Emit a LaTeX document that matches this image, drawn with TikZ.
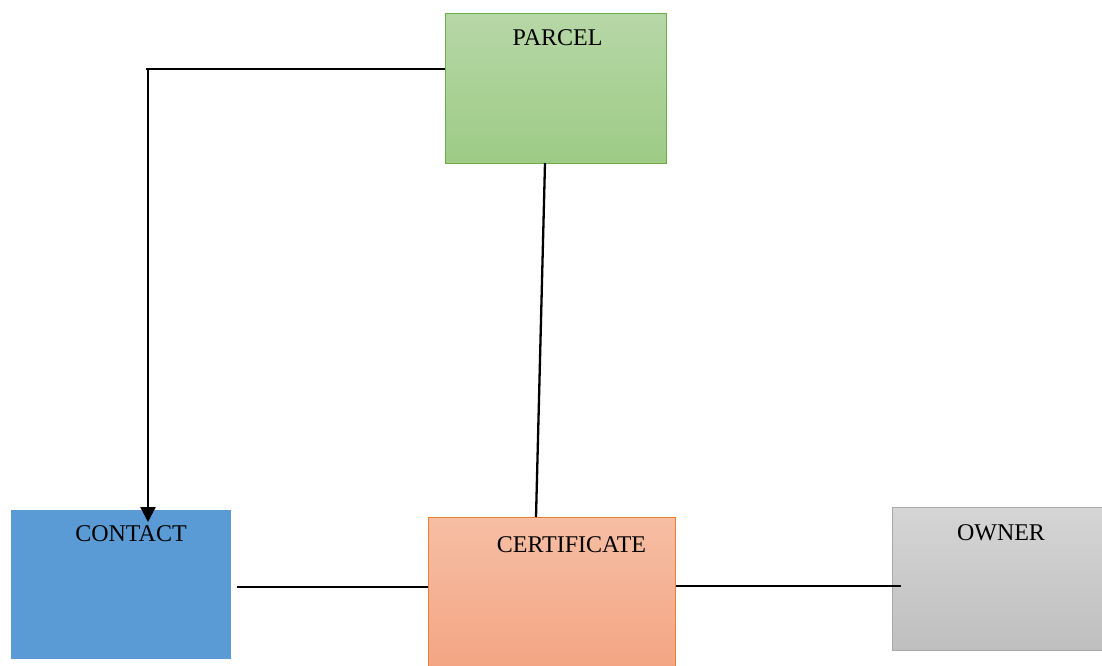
\documentclass[tikz,border=0pt]{standalone}
\usepackage{fontspec}
\setmainfont{Liberation Serif}
\usetikzlibrary{arrows.meta}
\definecolor{parcelTop}{RGB}{183,215,167}
\definecolor{parcelBot}{RGB}{157,203,133}
\definecolor{parcelLine}{RGB}{112,173,71}
\definecolor{contactFill}{RGB}{91,155,213}
\definecolor{certTop}{RGB}{246,190,164}
\definecolor{certBot}{RGB}{244,165,131}
\definecolor{certLine}{RGB}{237,125,49}
\definecolor{ownerTop}{RGB}{213,213,213}
\definecolor{ownerBot}{RGB}{191,191,191}
\definecolor{ownerLine}{RGB}{168,168,168}
\tikzset{
  entity/.style={rectangle, inner sep=0pt, anchor=north west, line width=1pt},
  label/.style={anchor=base, font=\fontsize{24}{28}\selectfont, inner sep=0pt},
  link/.style={line width=2.3pt, black},
  flow/.style={link, -{Triangle[length=15pt,width=15pt]}}
}
\begin{document}
\begin{tikzpicture}[x=1pt, y=-1pt]
  \useasboundingbox (0,0) rectangle (1102,666);

  % entity boxes
  \node[entity, draw=parcelLine, top color=parcelTop, bottom color=parcelBot,
        minimum width=221pt, minimum height=150pt] (parcel) at (445,13) {};
  \node[entity, fill=contactFill,
        minimum width=220pt, minimum height=149pt] (contact) at (10,509) {};
  \node[entity, draw=certLine, top color=certTop, bottom color=certBot,
        minimum width=247pt, minimum height=152pt] (cert) at (428,517) {};
  \node[entity, draw=ownerLine, top color=ownerTop, bottom color=ownerBot,
        minimum width=214pt, minimum height=143pt] (owner) at (892,507) {};

  % titles
  \node[label] (parcelT) at (557.5,46) {PARCEL};
  \node[label] (contactT) at (131,541) {CONTACT};
  \node[label] (certT) at (571.5,552) {CERTIFICATE};
  \node[label] (ownerT) at (1001,540) {OWNER};

  % connection points
  \coordinate (pW) at (parcel.west |- 0,69);
  \coordinate (turn) at (146,69);
  \coordinate (cTip) at (148,522);
  \coordinate (pS) at (545,163);
  \coordinate (cN) at (536,517);
  \coordinate (contactE) at (237,587);
  \coordinate (certW) at (cert.west |- 0,587);
  \coordinate (certE) at (cert.east |- 0,586);
  \coordinate (ownerIn) at (901,586);

  % connectors
  \draw[link] (pW) -- (turn);
  \draw[flow] (148,69) -- (cTip);
  \draw[link] (pS) -- (cN);
  \draw[link] (contactE) -- (certW);
  \draw[link] (certE) -- (ownerIn);
\end{tikzpicture}
\end{document}
